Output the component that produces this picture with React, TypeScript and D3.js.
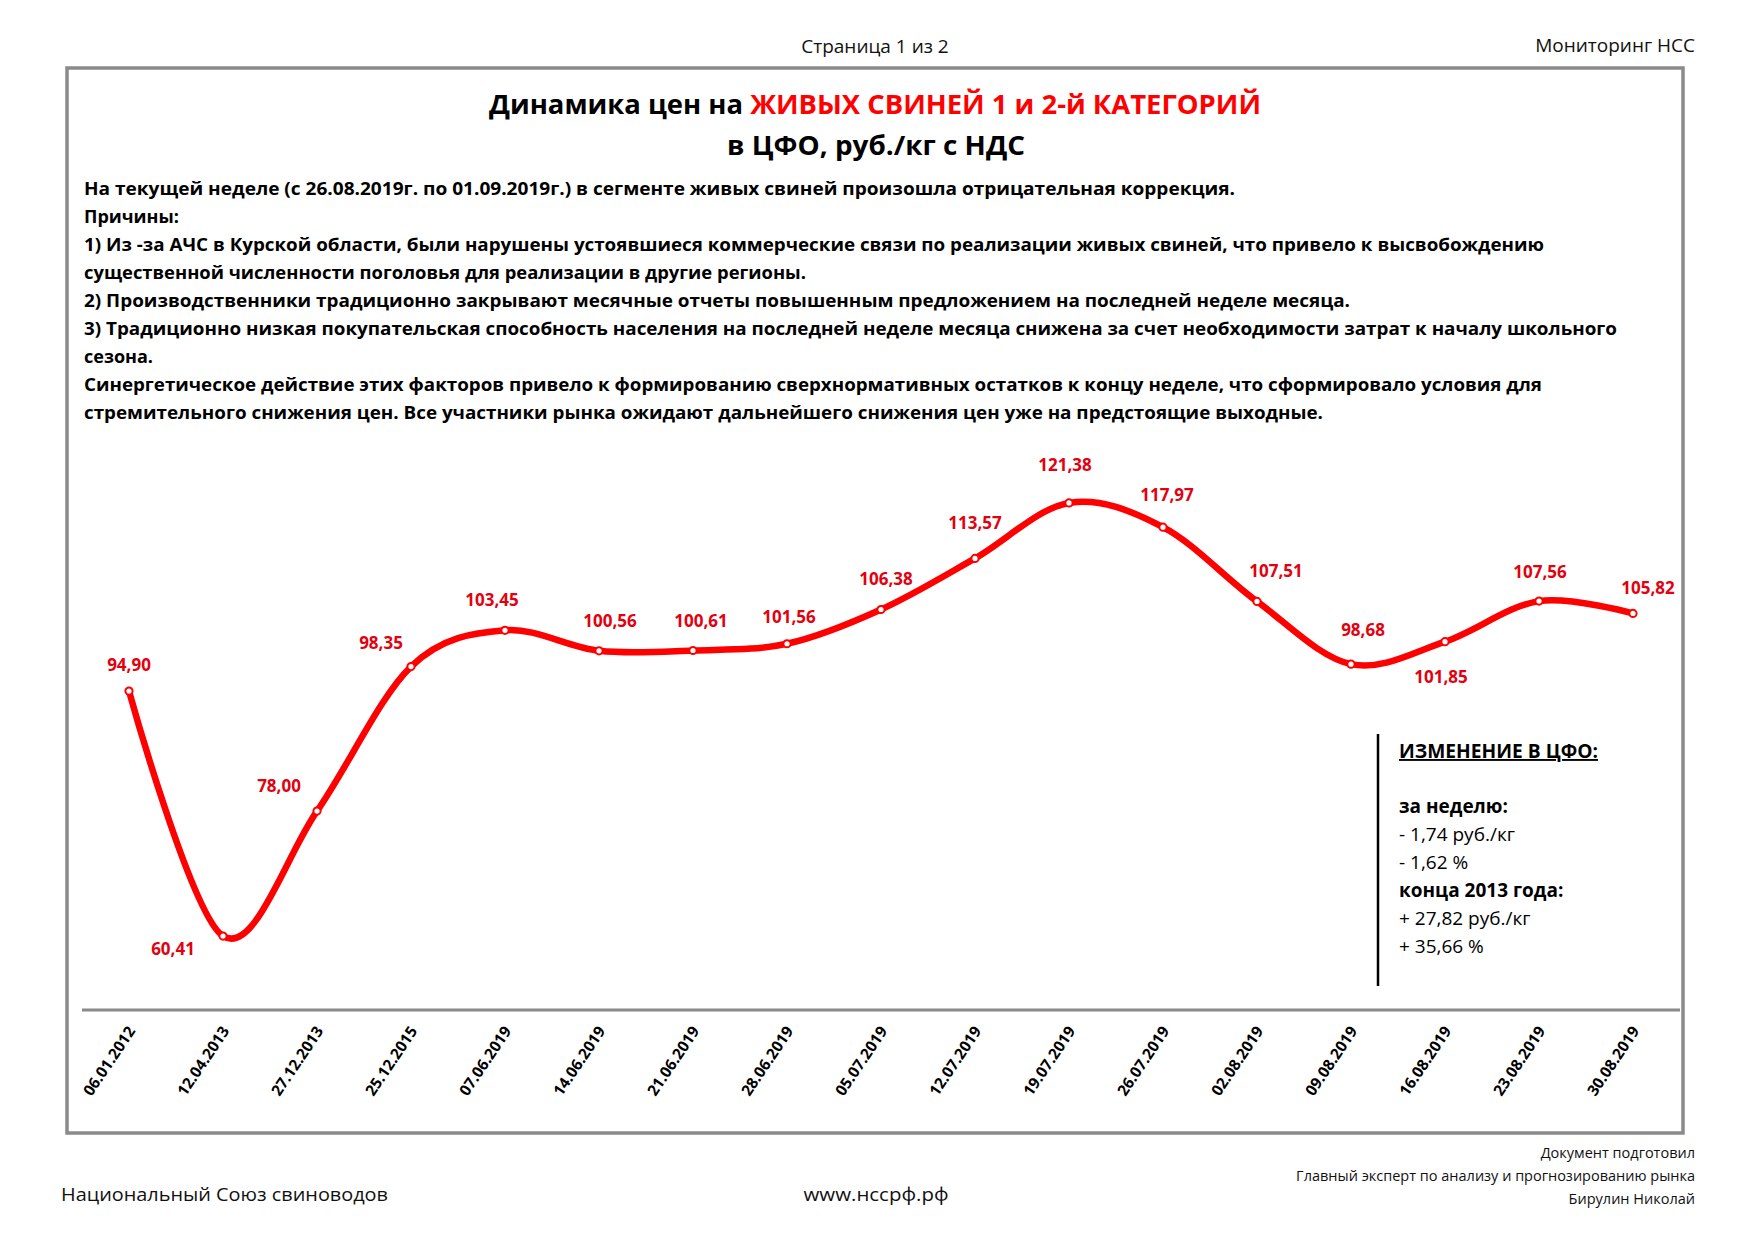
import * as d3 from 'd3';

// weekly price, rub/kg with VAT, live pigs cat. 1-2, Central FD
const dates = [
  '06.01.2012', '12.04.2013', '27.12.2013', '25.12.2015', '07.06.2019', '14.06.2019',
  '21.06.2019', '28.06.2019', '05.07.2019', '12.07.2019', '19.07.2019', '26.07.2019',
  '02.08.2019', '09.08.2019', '16.08.2019', '23.08.2019', '30.08.2019',
];
const prices = [
  94.9, 60.41, 78.0, 98.35, 103.45, 100.56, 100.61, 101.56, 106.38, 113.57, 121.38, 117.97,
  107.51, 98.68, 101.85, 107.56, 105.82,
];
// where each value label sits relative to its point (dx, dy)
const labelNudge: [number, number][] = [
  [0, -26], [-50, 13], [-38, -25], [-30, -24], [-13, -30], [11, -30], [8, -29], [2, -27],
  [5, -30], [0, -35], [-4, -38], [4, -32], [19, -30], [12, -34], [-4, 35], [1, -29], [15, -25],
];

const titleBlack = 'Динамика цен на ';
const titleRed = 'ЖИВЫХ СВИНЕЙ 1 и 2-й КАТЕГОРИЙ';
const subtitle = 'в ЦФО, руб./кг с НДС';

const commentLines = [
  'На текущей неделе (с 26.08.2019г. по 01.09.2019г.) в сегменте живых свиней произошла отрицательная коррекция.',
  'Причины:',
  '1) Из -за АЧС в Курской области, были нарушены устоявшиеся коммерческие связи по реализации живых свиней, что привело к высвобождению',
  'существенной численности поголовья для реализации в другие регионы.',
  '2) Производственники традиционно закрывают месячные отчеты повышенным предложением на последней неделе месяца.',
  '3) Традиционно низкая покупательская способность населения на последней неделе месяца снижена за счет необходимости затрат к началу школьного',
  'сезона.',
  'Синергетическое действие этих факторов привело к формированию сверхнормативных остатков к концу неделе, что сформировало условия для',
  'стремительного снижения цен. Все участники рынка ожидают дальнейшего снижения цен уже на предстоящие выходные.',
];
// measured right edges of the lines in the source
const commentEnds = [1235, 0, 1544, 806, 1350, 1617, 0, 1542, 1323];

const changeLines: { text: string; bold: boolean }[] = [
  { text: 'за неделю:', bold: true },
  { text: '- 1,74 руб./кг', bold: false },
  { text: '- 1,62 %', bold: false },
  { text: 'конца 2013 года:', bold: true },
  { text: '+ 27,82 руб./кг', bold: false },
  { text: '+ 35,66 %', bold: false },
];

const signedBy = ['Документ подготовил', 'Главный эксперт по анализу и прогнозированию рынка', 'Бирулин Николай'];

const W = 1754;
const H = 1240;
const FONT = "'Open Sans', 'Noto Sans', sans-serif";
const RED_LINE = '#ff0000';
const RED_TEXT = '#e3000f';

const ruFormat = d3.formatLocale({ decimal: ',', thousands: ' ', grouping: [3], currency: ['', ' руб.'] }).format('.2f');

export default function App() {
  const x = d3.scaleBand<string>().domain(dates).range([82, 1680]);
  const y = d3.scaleLinear().domain([50, 130]).range([1010, 441.7]);
  const cx = (d: string) => (x(d) ?? 0) + x.bandwidth() / 2;

  const pts = dates.map((d, i) => ({ d, v: prices[i], i }));
  const line = d3
    .line<{ d: string; v: number }>()
    .x((p) => cx(p.d))
    .y((p) => y(p.v))
    .curve(d3.curveCatmullRom.alpha(0));

  const axisY = y(50);

  return (
    <svg
      width={W}
      height={H}
      viewBox={`0 0 ${W} ${H}`}
      style={{ position: 'absolute', left: 0, top: 0, background: '#fff' }}
      fontFamily={FONT}
    >
      <rect x={0} y={0} width={W} height={H} fill="#fff" />

      {/* page header */}
      <text x={875} y={53} fontSize={19} textAnchor="middle" fill="#111">
        Страница 1 из 2
      </text>
      <text x={1695} y={52} fontSize={19} textAnchor="end" fill="#111">
        Мониторинг НСС
      </text>

      {/* frame */}
      <rect x={67} y={68} width={1616} height={1065} fill="none" stroke="#8a8a8a" strokeWidth={3.5} />

      {/* title */}
      <text x={875} y={114} fontSize={27} fontWeight="bold" textAnchor="middle" fill="#000" textLength={772} lengthAdjust="spacingAndGlyphs">
        <tspan>{titleBlack}</tspan>
        <tspan fill={RED_LINE}>{titleRed}</tspan>
      </text>
      <text x={876} y={155} fontSize={27} fontWeight="bold" textAnchor="middle" fill="#000" textLength={298} lengthAdjust="spacingAndGlyphs">
        {subtitle}
      </text>

      {/* commentary */}
      {commentLines.map((t, i) => (
        <text
          key={i}
          x={84}
          y={195 + i * 28}
          fontSize={18}
          fontWeight="bold"
          fill="#000"
          {...(commentEnds[i] ? { textLength: commentEnds[i] - 84, lengthAdjust: 'spacingAndGlyphs' } : {})}
        >
          {t}
        </text>
      ))}

      {/* x axis */}
      <line x1={82} x2={1680} y1={axisY} y2={axisY} stroke="#8a8a8a" strokeWidth={3} />
      {dates.map((d) => (
        <text
          key={d}
          transform={`translate(${cx(d) + 7},${axisY + 21}) rotate(-56)`}
          textAnchor="end"
          fontSize={15.5}
          fontWeight="bold"
          fill="#000"
        >
          {d}
        </text>
      ))}

      {/* price line */}
      <path d={line(pts) ?? ''} fill="none" stroke={RED_LINE} strokeWidth={6.5} strokeLinejoin="round" />
      {pts.map((p) => (
        <circle key={p.d} cx={cx(p.d)} cy={y(p.v)} r={3.6} fill="#fff" stroke={RED_LINE} strokeWidth={2} />
      ))}
      {pts.map((p) => (
        <text
          key={'l' + p.d}
          x={cx(p.d) + labelNudge[p.i][0]}
          y={y(p.v) + labelNudge[p.i][1] + 6}
          textAnchor="middle"
          fontSize={17}
          fontWeight="bold"
          fill={RED_TEXT}
        >
          {ruFormat(p.v)}
        </text>
      ))}

      {/* change box */}
      <line x1={1378} x2={1378} y1={734} y2={986} stroke="#000" strokeWidth={2.5} />
      <text x={1399} y={758} fontSize={19} fontWeight="bold" fill="#000" textDecoration="underline" textLength={199} lengthAdjust="spacingAndGlyphs">
        ИЗМЕНЕНИЕ В ЦФО:
      </text>
      {changeLines.map((l, i) => (
        <text key={i} x={1399} y={813 + i * 28} fontSize={19} fontWeight={l.bold ? 'bold' : 'normal'} fill="#000">
          {l.text}
        </text>
      ))}

      {/* footer */}
      <text x={61} y={1201} fontSize={19} fill="#111" textLength={327} lengthAdjust="spacingAndGlyphs">
        Национальный Союз свиноводов
      </text>
      <text x={876} y={1201} fontSize={19} textAnchor="middle" fill="#111" textLength={145} lengthAdjust="spacingAndGlyphs">
        www.нсcрф.рф
      </text>
      {signedBy.map((s, i) => (
        <text key={i} x={1695} y={1158 + i * 23} fontSize={14.5} textAnchor="end" fill="#111">
          {s}
        </text>
      ))}
    </svg>
  );
}
